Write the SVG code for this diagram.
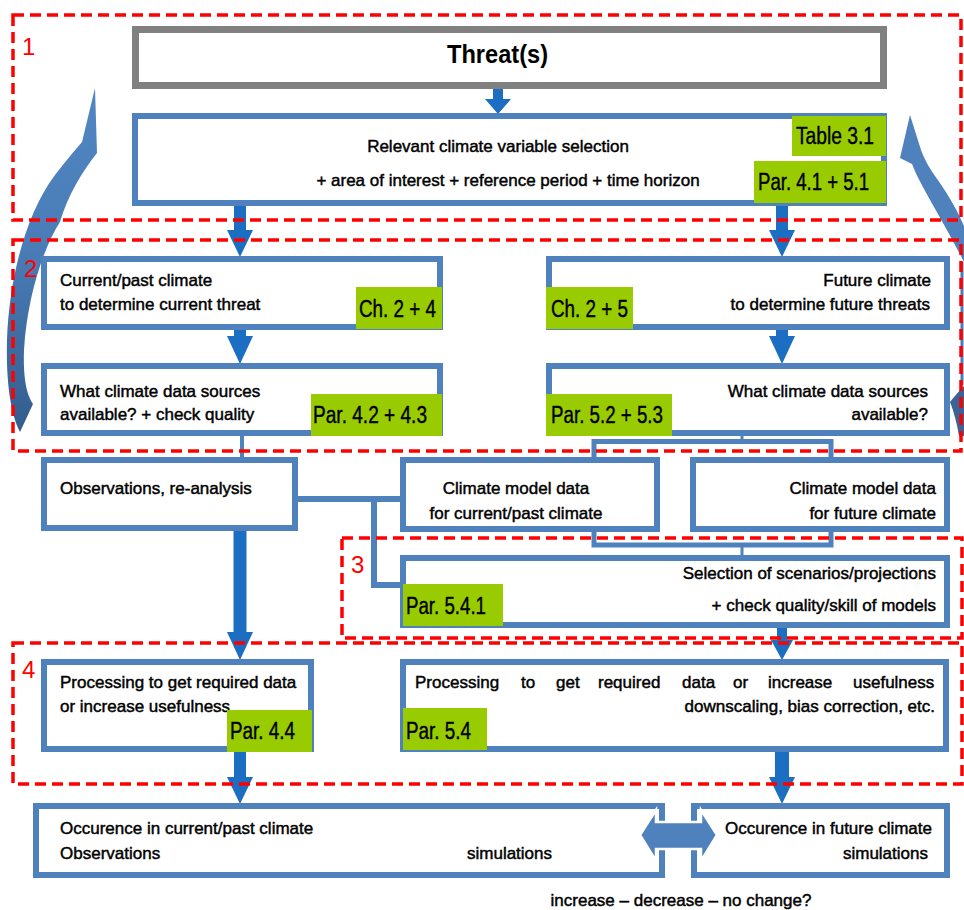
<svg xmlns="http://www.w3.org/2000/svg" width="964" height="910" viewBox="0 0 964 910">
<style>
.box{fill:#fff;stroke:#4F81BD;stroke-width:6}
.thr{fill:#fff;stroke:#808080;stroke-width:7}
.grn{fill:#99CC00}
.reg{fill:none;stroke:#FF0000;stroke-width:3.5;stroke-dasharray:11 6}
.arr{fill:#1B6EC2}
.con{fill:none;stroke:#4F81BD}
.t{font-family:"Liberation Sans",Arial,sans-serif;font-size:17px;fill:#000;stroke:#000;stroke-width:0.45}
.g{font-family:"Liberation Sans",Arial,sans-serif;font-size:23px;fill:#000;stroke:#000;stroke-width:0.4}
.num{font-family:"Liberation Sans",Arial,sans-serif;font-size:24px;fill:#FF0000}
.e{text-anchor:end}
.m{text-anchor:middle}
</style>
<defs>
<linearGradient id="cg" x1="0" y1="0" x2="0" y2="1">
<stop offset="0" stop-color="#5086C2"/>
<stop offset="0.45" stop-color="#4A7DB8"/>
<stop offset="1" stop-color="#345D8E"/>
</linearGradient>
</defs>
<rect width="964" height="910" fill="#fff"/>

<g id="curved-arrows">
<path d="M95,88 L97,153 C82,172 68,195 60,222 C42,250 27,300 24,350 C23,380 27,395 33,404 L20,432 C10,412 6,380 7,340 C9,280 25,215 55,175 C65,162 75,150 82,142 Z" fill="url(#cg)"/>
<path d="M910,115 L900,158 L912,164 C920,185 940,215 964,262 L964,226 C955,205 945,190 935,176 C928,166 924,158 921,150 Z" fill="#4F81BD"/>
<path d="M962,262 L962,385" stroke="#4A7DB8" stroke-width="3" fill="none"/>
<path d="M964,386 C958,392 954,397 950,402 C954,412 957,424 959,436 L964,436 Z" fill="#3A6496"/>
</g>

<g id="connectors">
<path class="con" stroke-width="4" d="M242,436 V457"/>
<path class="con" stroke-width="6" d="M298,499 H400"/>
<path class="con" stroke-width="6" d="M374,499 V585 H400"/>
<path class="con" stroke-width="3" d="M742,436 V441"/>
<path class="con" stroke-width="5" d="M594,458 V441.5 H831 V458"/>
<path class="con" stroke-width="5" d="M594,531 V545 H831 V531"/>
<path class="con" stroke-width="3" d="M742,545 V556"/>
<path class="arr" d="M493,89 H503 V99 H511 L498,114 L485,99 H493 Z"/>
<path class="arr" d="M234,206 H246 V230 H253 L240,257 L227,230 H234 Z"/>
<path class="arr" d="M776,206 H788 V230 H795 L782,257 L769,230 H776 Z"/>
<path class="arr" d="M234,330 H246 V336 H253 L240,364 L227,336 H234 Z"/>
<path class="arr" d="M776,330 H788 V336 H795 L782,364 L769,336 H776 Z"/>
<path class="arr" d="M233.5,531 H246.5 V632 H253 L240,660 L227,632 H233.5 Z"/>
<path class="arr" d="M777,628 H787 V640 H793 L782,660 L771,640 H777 Z"/>
<path class="arr" d="M234,752 H246 V777 H253 L240,804 L227,777 H234 Z"/>
<path class="arr" d="M775,752 H789 V777 H795 L782,804 L769,777 H775 Z"/>
</g>

<g id="threat">
<rect class="thr" x="135.5" y="29.5" width="748" height="56"/>
<text x="447" y="63" font-family="Liberation Sans,Arial,sans-serif" font-size="26" font-weight="bold" textLength="101" lengthAdjust="spacingAndGlyphs">Threat(s)</text>
</g>

<g id="relevant">
<rect class="box" x="135" y="116" width="749" height="87"/>
<text class="t m" x="498" y="152">Relevant climate variable selection</text>
<text class="t m" x="508" y="186">+ area of interest + reference period + time horizon</text>
<rect class="grn" x="792" y="116" width="94" height="40"/>
<text class="g" x="796" y="144" textLength="78" lengthAdjust="spacingAndGlyphs">Table 3.1</text>
<rect class="grn" x="754" y="161" width="132" height="42"/>
<text class="g" x="758" y="190" textLength="111" lengthAdjust="spacingAndGlyphs">Par. 4.1 + 5.1</text>
</g>

<g id="current">
<rect class="box" x="44" y="259" width="396" height="68"/>
<text class="t" x="60" y="286">Current/past climate</text>
<text class="t" x="60" y="310">to determine current threat</text>
<rect class="grn" x="356" y="287" width="86" height="42"/>
<text class="g" x="359" y="317" textLength="77" lengthAdjust="spacingAndGlyphs">Ch. 2 + 4</text>
</g>

<g id="future">
<rect class="box" x="549" y="259" width="398" height="68"/>
<text class="t e" x="931" y="286">Future climate</text>
<text class="t e" x="930" y="310">to determine future threats</text>
<rect class="grn" x="546" y="287" width="87" height="42"/>
<text class="g" x="551" y="317" textLength="77" lengthAdjust="spacingAndGlyphs">Ch. 2 + 5</text>
</g>

<g id="sources-current">
<rect class="box" x="44" y="366" width="396" height="67"/>
<text class="t" x="60" y="397">What climate data sources</text>
<text class="t" x="60" y="420">available? + check quality</text>
<rect class="grn" x="311" y="394" width="131" height="42"/>
<text class="g" x="313" y="423" textLength="114" lengthAdjust="spacingAndGlyphs">Par. 4.2 + 4.3</text>
</g>

<g id="sources-future">
<rect class="box" x="549" y="366" width="398" height="67"/>
<text class="t e" x="928" y="397">What climate data sources</text>
<text class="t e" x="928" y="420">available?</text>
<rect class="grn" x="546" y="394" width="126" height="42"/>
<text class="g" x="551" y="423" textLength="112" lengthAdjust="spacingAndGlyphs">Par. 5.2 + 5.3</text>
</g>

<g id="observations">
<rect class="box" x="44" y="460" width="251" height="68"/>
<text class="t" x="60" y="494">Observations, re-analysis</text>
</g>

<g id="model-current">
<rect class="box" x="403" y="460" width="254" height="69"/>
<text class="t m" x="516" y="494">Climate model data</text>
<text class="t m" x="516" y="519">for current/past climate</text>
</g>

<g id="model-future">
<rect class="box" x="693" y="460" width="254" height="69"/>
<text class="t e" x="936" y="494">Climate model data</text>
<text class="t e" x="936" y="519">for future climate</text>
</g>

<g id="selection">
<rect class="box" x="403" y="558" width="544" height="67"/>
<text class="t e" x="936" y="579">Selection of scenarios/projections</text>
<text class="t e" x="936" y="611">+ check quality/skill of models</text>
<rect class="grn" x="403" y="584" width="100" height="42"/>
<text class="g" x="406" y="614" textLength="80" lengthAdjust="spacingAndGlyphs">Par. 5.4.1</text>
</g>

<g id="processing-current">
<rect class="box" x="44" y="662" width="267" height="87"/>
<text class="t" x="60" y="688">Processing to get required data</text>
<text class="t" x="60" y="712">or increase usefulness</text>
<rect class="grn" x="227" y="710" width="85" height="42"/>
<text class="g" x="230" y="739" textLength="65" lengthAdjust="spacingAndGlyphs">Par. 4.4</text>
</g>

<g id="processing-future">
<rect class="box" x="403" y="662" width="543" height="87"/>
<text class="t" y="688"><tspan x="415">Processing</tspan><tspan x="521">to</tspan><tspan x="556">get</tspan><tspan x="598">required</tspan><tspan x="682">data</tspan><tspan x="733">or</tspan><tspan x="768">increase</tspan><tspan x="853">usefulness</tspan></text>
<text class="t e" x="935" y="712">downscaling, bias correction, etc.</text>
<rect class="grn" x="403" y="708" width="84" height="42"/>
<text class="g" x="406" y="739" textLength="65" lengthAdjust="spacingAndGlyphs">Par. 5.4</text>
</g>

<g id="occurrence-current">
<rect class="box" x="36" y="806" width="626" height="69"/>
<text class="t" x="60" y="834">Occurence in current/past climate</text>
<text class="t" x="60" y="859">Observations</text>
<text class="t" x="467" y="859">simulations</text>
</g>

<g id="occurrence-future">
<rect class="box" x="694" y="806" width="253" height="69"/>
<text class="t e" x="932" y="834">Occurence in future climate</text>
<text class="t e" x="928" y="859">simulations</text>
</g>

<g id="compare-arrow">
<path d="M640,835 L656,810 L656,822 L701,822 L701,810 L717,835 L701,861 L701,849 L656,849 L656,861 Z" fill="#4F81BD" stroke="#fff" stroke-width="2.5" stroke-linejoin="miter"/>
<text class="t m" x="681" y="906">increase – decrease – no change?</text>
</g>

<g id="regions">
<rect class="reg" x="13" y="15" width="948" height="205"/>
<rect class="reg" x="13" y="240" width="948" height="211"/>
<rect class="reg" x="342" y="538" width="620" height="100"/>
<rect class="reg" x="13" y="643" width="949" height="141"/>
<text class="num" x="22" y="55">1</text>
<text class="num" x="24" y="277">2</text>
<text class="num" x="351" y="573">3</text>
<text class="num" x="22" y="678">4</text>
</g>
</svg>
